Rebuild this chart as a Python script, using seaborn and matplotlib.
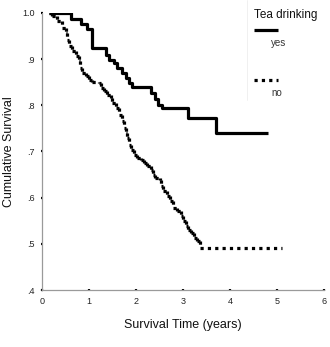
import matplotlib
matplotlib.use("Agg")
import matplotlib.pyplot as plt
from matplotlib.lines import Line2D
from matplotlib.collections import LineCollection
import seaborn as sns
import pandas as pd

# Kaplan-Meier estimates, read as (event time in years, survival after the event)
yes_time = [0.15, 0.62, 0.83, 0.96, 1.06, 1.36, 1.43, 1.53, 1.60, 1.70, 1.79,
            1.85, 1.91, 2.32, 2.40, 2.47, 2.55, 3.11, 3.70, 4.81]
yes_surv = [1.000, 0.987, 0.976, 0.966, 0.924, 0.909, 0.898, 0.892, 0.881, 0.870,
            0.859, 0.848, 0.840, 0.827, 0.814, 0.801, 0.794, 0.773, 0.740, 0.740]

no_time = [0.15, 0.21, 0.32, 0.43, 0.51, 0.53, 0.57, 0.64, 0.72, 0.79, 0.81,
           0.85, 0.94, 1.00, 1.06, 1.21, 1.26, 1.32, 1.38, 1.47, 1.49, 1.57,
           1.64, 1.70, 1.74, 1.79, 1.81, 1.85, 1.89, 1.96, 2.02, 2.11, 2.17,
           2.23, 2.32, 2.36, 2.40, 2.51, 2.53, 2.57, 2.66, 2.72, 2.79, 2.87,
           2.96, 3.00, 3.06, 3.11, 3.17, 3.23, 3.30, 3.36, 5.11]
no_surv = [1.000, 0.994, 0.983, 0.968, 0.957, 0.942, 0.929, 0.918, 0.907, 0.896,
           0.881, 0.870, 0.864, 0.855, 0.851, 0.848, 0.838, 0.831, 0.823, 0.816,
           0.805, 0.794, 0.779, 0.766, 0.751, 0.740, 0.729, 0.714, 0.703, 0.693,
           0.686, 0.682, 0.675, 0.669, 0.660, 0.649, 0.643, 0.639, 0.626, 0.615,
           0.604, 0.593, 0.578, 0.571, 0.561, 0.550, 0.539, 0.530, 0.524, 0.513,
           0.506, 0.491, 0.491]

groups = ["yes", "no"]
x_ticks = [0, 1, 2, 3, 4, 5, 6]
y_ticks = [0.4, 0.5, 0.6, 0.7, 0.8, 0.9, 1.0]
y_tick_labels = [".4", ".5", ".6", ".7", ".8", ".9", "1.0"]

yes_df = pd.DataFrame({"time": yes_time, "surv": yes_surv, "tea": groups[0]})

sns.set_theme(style="white")
plt.rcParams["font.family"] = ["Liberation Sans", "DejaVu Sans"]

fig = plt.figure(figsize=(3.30, 3.47), dpi=100)
ax = fig.add_axes([0.127, 0.164, 0.855, 0.799])

line_w = 2.3
dot_pattern = (1.0, 1.3)

# Tea drinkers: solid step curve
sns.lineplot(data=yes_df, x="time", y="surv", color="black",
             estimator=None, sort=False, drawstyle="steps-post",
             linewidth=line_w, legend=False, ax=ax)
for ln in ax.get_lines():
    ln.set_solid_capstyle("butt")

# Non-drinkers: dotted step curve, each step drawn as its own dotted segment
segs = []
for i in range(len(no_time) - 1):
    t0, t1 = no_time[i], no_time[i + 1]
    s0, s1 = no_surv[i], no_surv[i + 1]
    segs.append([(t0, s0), (t1, s0)])
    if s1 != s0:
        segs.append([(t1, s0), (t1, s1)])
no_lines = LineCollection(segs, colors="black", linewidths=line_w,
                          linestyles=[(0, dot_pattern)], capstyle="butt")
ax.add_collection(no_lines)

ax.set_xlim(0, 6)
ax.set_ylim(0.4, 1.0)
ax.set_xticks(x_ticks)
ax.set_xticklabels([str(t) for t in x_ticks])
ax.set_yticks(y_ticks)
ax.set_yticklabels(y_tick_labels)
ax.tick_params(axis="both", which="major", length=2, width=1.6, color="black",
               direction="inout", labelsize=6.5, labelcolor="#222222", pad=4,
               left=True, bottom=True)

for side in ("top", "right"):
    ax.spines[side].set_visible(False)
for side in ("left", "bottom"):
    ax.spines[side].set_color("#9a9a9a")
    ax.spines[side].set_linewidth(0.9)

ax.set_xlabel("Survival Time (years)", fontsize=9, color="#111111")
ax.set_ylabel("Cumulative Survival", fontsize=9, color="#111111")
ax.xaxis.set_label_coords(0.5, -0.105)
ax.yaxis.set_label_coords(-0.096, 0.5)

# Legend block at the upper right
W, H = 330.0, 347.0
def fx(px):
    return px / W
def fy(py):
    return 1 - py / H

fig.add_artist(Line2D([fx(247), fx(247)], [fy(0), fy(100)], color="#eeeeee", lw=0.6))
fig.text(fx(254), fy(15), "Tea drinking", fontsize=8.5, color="#111111",
         ha="left", va="center")
fig.add_artist(Line2D([fx(254), fx(278)], [fy(30), fy(30)], color="black",
                      lw=line_w, solid_capstyle="butt"))
fig.text(fx(271), fy(43), "yes", fontsize=7, color="#333333", ha="left", va="center")
fig.add_artist(Line2D([fx(254), fx(278)], [fy(80), fy(80)], color="black",
                      lw=line_w, dashes=dot_pattern, dash_capstyle="butt"))
fig.text(fx(271), fy(93), "no", fontsize=7, color="#333333", ha="left", va="center")

fig.savefig("out.png", dpi=100)
